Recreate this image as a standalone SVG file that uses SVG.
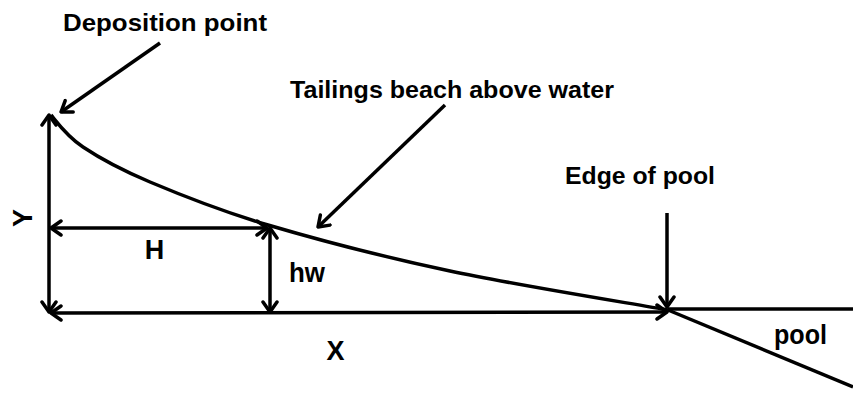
<svg xmlns="http://www.w3.org/2000/svg" width="853" height="394" viewBox="0 0 853 394">
<style>
.ln{fill:none;stroke:#000;stroke-width:3.5;stroke-linecap:butt}
.t{font-family:"Liberation Sans",Arial,sans-serif;font-weight:bold;fill:#000}
.lbl{font-size:24px}
.big{font-size:27px}
</style>
<defs>
<marker id="ah" viewBox="-12 -9 14 18" markerWidth="14" markerHeight="18" refX="0" refY="0" orient="auto-start-reverse" markerUnits="userSpaceOnUse">
<path d="M-10,-7 L0,0 L-10,7" fill="none" stroke="#000" stroke-width="3.5" stroke-linejoin="round" stroke-linecap="round"/>
</marker>
</defs>
<rect width="853" height="394" fill="#fff"/>
<g id="beach">
<path class="ln" d="M51,115 C55.5,120.3 66.3,135.8 83,147 C99.7,158.2 119.2,169 150,182 C180.8,195 218,210.2 268,225 C318,239.8 383.3,256.8 450,271 C516.7,285.2 631.7,303.5 668,310"/>
</g>
<g id="water">
<line class="ln" x1="668" y1="309" x2="853" y2="309"/>
<line class="ln" x1="668" y1="310" x2="853" y2="387"/>
</g>
<g id="connectors">
<line class="ln" x1="49" y1="312" x2="49" y2="115" marker-start="url(#ah)" marker-end="url(#ah)"/>
<line class="ln" x1="51" y1="313" x2="667" y2="312" marker-start="url(#ah)" marker-end="url(#ah)"/>
<line class="ln" x1="51" y1="228" x2="267" y2="228" marker-start="url(#ah)" marker-end="url(#ah)"/>
<line class="ln" x1="270" y1="228" x2="270" y2="312" marker-start="url(#ah)" marker-end="url(#ah)"/>
<line class="ln" x1="667" y1="213" x2="667" y2="307" marker-end="url(#ah)"/>
<line class="ln" x1="160" y1="43" x2="61" y2="112" marker-end="url(#ah)"/>
<line class="ln" x1="445" y1="105" x2="318" y2="227" marker-end="url(#ah)"/>
</g>
<g id="deposition-point"><text class="t lbl" x="63" y="31" textLength="204" lengthAdjust="spacingAndGlyphs">Deposition point</text></g>
<g id="tailings-beach"><text class="t lbl" x="290" y="98" textLength="324" lengthAdjust="spacingAndGlyphs">Tailings beach above water</text></g>
<g id="edge-of-pool"><text class="t lbl" x="565" y="183.5" textLength="150" lengthAdjust="spacingAndGlyphs">Edge of pool</text></g>
<g id="pool"><text class="t big" x="774" y="344" textLength="53" lengthAdjust="spacingAndGlyphs">pool</text></g>
<g id="label-Y"><text class="t big" x="32" y="218" text-anchor="middle" transform="rotate(-90 32 218)">Y</text></g>
<g id="label-H"><text class="t big" x="154.5" y="259" text-anchor="middle">H</text></g>
<g id="label-hw"><text class="t big" x="289" y="282" textLength="36" lengthAdjust="spacingAndGlyphs">hw</text></g>
<g id="label-X"><text class="t big" x="335.5" y="360" text-anchor="middle">X</text></g>
</svg>
